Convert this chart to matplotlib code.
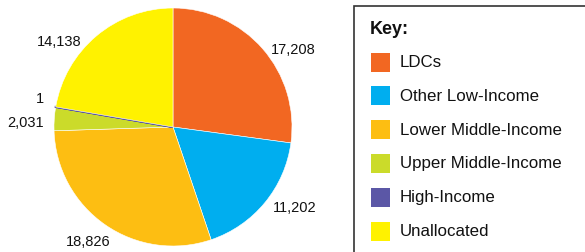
import matplotlib
matplotlib.use("Agg")
import matplotlib.pyplot as plt
from matplotlib.patches import Rectangle
import numpy as np

categories = ["LDCs", "Other Low-Income", "Lower Middle-Income",
              "Upper Middle-Income", "High-Income", "Unallocated"]
values = [17208, 11202, 18826, 2031, 1, 14138]
value_labels = ["17,208", "11,202", "18,826", "2,031", "1", "14,138"]
colors = ["#F26722", "#00AEEF", "#FDBE12", "#CBDB2A", "#5B57A6", "#FFF200"]

# label placement: (clockwise angle from top in degrees, distance in radii)
label_angles = [57.5, 123.8, 216.5, 271.5, 282.0, 306.7]
label_dists = [1.20, 1.23, 1.20, 1.24, 1.14, 1.19]

plt.rcParams['font.family'] = ['Liberation Sans', 'DejaVu Sans']

W, H = 585, 252
fig = plt.figure(figsize=(W / 100, H / 100), dpi=100)

cx, cy, r = 173, 127, 119
ax = fig.add_axes([(cx - r) / W, (H - cy - r) / H, 2 * r / W, 2 * r / H])
wedges, _ = ax.pie(values, colors=colors, startangle=90, counterclock=False,
                   wedgeprops=dict(edgecolor="white", linewidth=0.4))
wedges[4].set_edgecolor(colors[4])
wedges[4].set_linewidth(1.5)
for lab, a, d in zip(value_labels, label_angles, label_dists):
    t = np.deg2rad(a)
    ax.text(d * np.sin(t), d * np.cos(t), lab, fontsize=10.5, color="#111111",
            ha="center", va="center", clip_on=False)
ax.set_xlim(-1, 1)
ax.set_ylim(-1, 1)
ax.set_aspect("equal")
ax.axis("off")

lax = fig.add_axes([0, 0, 1, 1], facecolor="none")
lax.set_xlim(0, W)
lax.set_ylim(H, 0)
lax.axis("off")
lax.add_patch(Rectangle((353.5, 5.5), 260, 270, facecolor="white",
                        edgecolor="#333333", linewidth=1.2))
lax.text(370, 29, "Key:", fontsize=13, fontweight="bold", va="center", ha="left",
         color="#111111")
y0, dy = 62, 33.8
for i, (cat, col) in enumerate(zip(categories, colors)):
    y = y0 + i * dy
    lax.add_patch(Rectangle((371, y - 9.5), 19, 19, facecolor=col, edgecolor="none"))
    lax.text(400, y + 0.5, cat, fontsize=12.2, va="center", ha="left", color="#111111")

fig.savefig("out.png", dpi=100)
